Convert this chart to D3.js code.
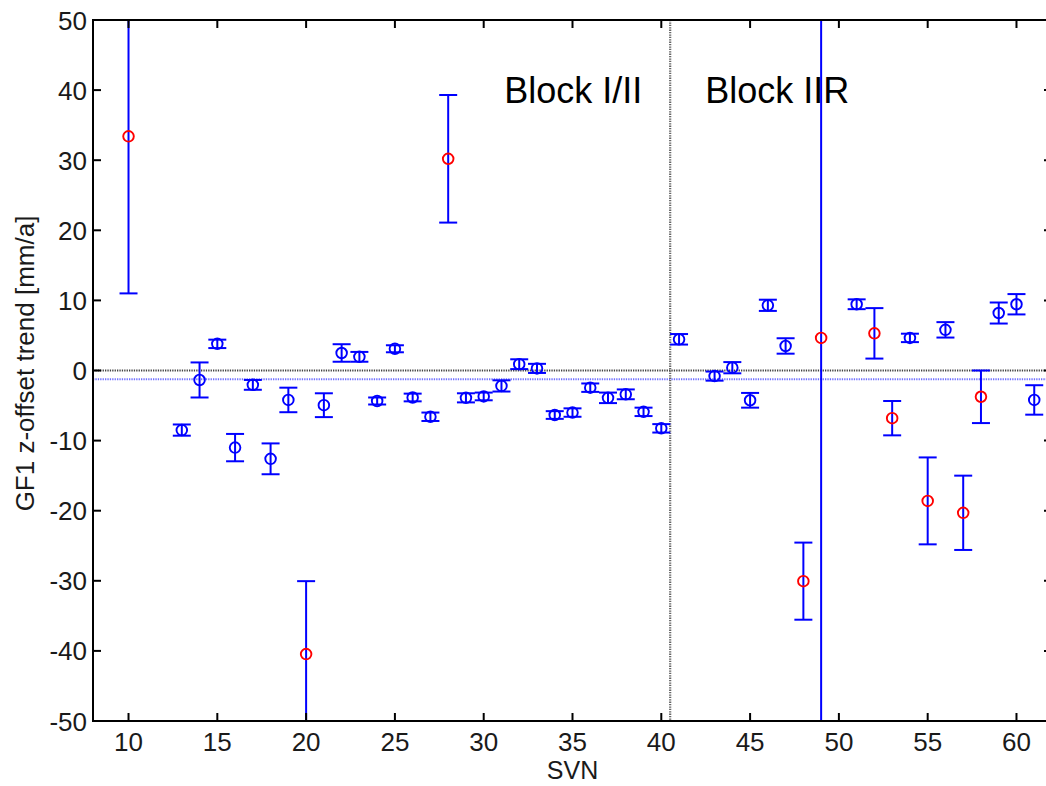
<!DOCTYPE html>
<html>
<head>
<meta charset="utf-8">
<script src="https://cdn.jsdelivr.net/npm/d3@7"></script>
<style>
  html, body { margin: 0; padding: 0; background: #fff; }
  svg { display: block; font-family: "Liberation Sans", Arial, Helvetica, sans-serif; }
</style>
</head>
<body>
<svg id="chart" width="1046" height="786"></svg>
<script>
// ---- data ----
const svn      = [10, 13, 14, 15, 16, 17, 18, 19, 20, 21, 22, 23, 24, 25, 26, 27, 28, 29, 30, 31, 32, 33, 34, 35, 36, 37, 38, 39, 40, 41, 43, 44, 45, 46, 47, 48, 49, 51, 52, 53, 54, 55, 56, 57, 58, 59, 60, 61];
const trend    = [33.4, -8.5, -1.35, 3.8, -11.0, -2.05, -12.6, -4.2, -40.45, -4.95, 2.5, 1.95, -4.35, 3.1, -3.85, -6.6, 30.2, -3.9, -3.7, -2.2, 0.9, 0.3, -6.35, -6.0, -2.45, -3.9, -3.4, -5.9, -8.25, 4.45, -0.8, 0.4, -4.25, 9.3, 3.5, -30.05, 4.65, 9.45, 5.3, -6.8, 4.65, -18.6, 5.8, -20.3, -3.75, 8.2, 9.45, -4.2];
const sigma    = [22.4, 0.8, 2.5, 0.6, 1.95, 0.7, 2.2, 1.75, 10.4, 1.7, 1.25, 0.7, 0.5, 0.5, 0.55, 0.6, 9.1, 0.65, 0.55, 0.8, 0.7, 0.65, 0.55, 0.6, 0.6, 0.75, 0.7, 0.6, 0.6, 0.75, 0.65, 0.8, 1.05, 0.8, 1.1, 5.5, 60, 0.7, 3.6, 2.45, 0.6, 6.2, 1.1, 5.3, 3.75, 1.5, 1.45, 2.1];
const flagged  = [10, 20, 28, 48, 49, 52, 53, 55, 57, 58];   // red markers
const meanTrend = -1.25;     // blue dotted line
const blockSplit = 40.5;     // vertical dotted line
const xTicks = [10, 15, 20, 25, 30, 35, 40, 45, 50, 55, 60];
const yTicks = [-50, -40, -30, -20, -10, 0, 10, 20, 30, 40, 50];
const blockLabels = [
  { text: "Block I/II", svn: 31.15, val: 38.2 },
  { text: "Block IIR", svn: 42.47, val: 38.2 }
];
const xLabel = "SVN";
const yLabel = "GF1 z-offset trend [mm/a]";

// ---- layout ----
const svg = d3.select("#chart");
const L = 93, R = 1052, T = 20, B = 721;
const x = d3.scaleLinear().domain([8, 62]).range([L, R]);
const y = d3.scaleLinear().domain([-50, 50]).range([B, T]);

const data = svn.map((s, i) => ({ s, v: trend[i], e: sigma[i], red: flagged.includes(s) }));

svg.append("defs").append("clipPath").attr("id", "clip")
  .append("rect").attr("x", L).attr("y", T).attr("width", R - L).attr("height", B - T);

const plot = svg.append("g").attr("clip-path", "url(#clip)");

// reference lines
plot.append("line")
  .attr("x1", L).attr("x2", R).attr("y1", y(0)).attr("y2", y(0))
  .attr("stroke", "#444").attr("stroke-width", 2.2).attr("stroke-dasharray", "1.3,1.1");
plot.append("line")
  .attr("x1", L).attr("x2", R).attr("y1", y(meanTrend)).attr("y2", y(meanTrend))
  .attr("stroke", "#7070ff").attr("stroke-width", 2.2).attr("stroke-dasharray", "1.3,1.1");
plot.append("line")
  .attr("x1", x(blockSplit)).attr("x2", x(blockSplit)).attr("y1", T).attr("y2", B)
  .attr("stroke", "#666").attr("stroke-width", 2.2).attr("stroke-dasharray", "1.3,1.1");

// error bars
const capW = 9;
const eb = plot.selectAll("g.eb").data(data).join("g").attr("class", "eb")
  .attr("stroke", "#0000ff").attr("stroke-width", 2).attr("fill", "none");
eb.append("line")
  .attr("x1", d => x(d.s)).attr("x2", d => x(d.s))
  .attr("y1", d => y(d.v + d.e)).attr("y2", d => y(d.v - d.e));
eb.append("line")
  .attr("x1", d => x(d.s) - capW).attr("x2", d => x(d.s) + capW)
  .attr("y1", d => y(d.v + d.e)).attr("y2", d => y(d.v + d.e));
eb.append("line")
  .attr("x1", d => x(d.s) - capW).attr("x2", d => x(d.s) + capW)
  .attr("y1", d => y(d.v - d.e)).attr("y2", d => y(d.v - d.e));

// markers
plot.selectAll("circle.pt").data(data).join("circle").attr("class", "pt")
  .attr("cx", d => x(d.s)).attr("cy", d => y(d.v)).attr("r", 5.3)
  .attr("fill", "none").attr("stroke", d => d.red ? "#ff0000" : "#0000ff")
  .attr("stroke-width", 1.9);

// block labels
svg.selectAll("text.block").data(blockLabels).join("text").attr("class", "block")
  .attr("x", d => x(d.svn)).attr("y", d => y(d.val))
  .attr("font-size", 36).attr("fill", "#000").text(d => d.text);

// axes
const tickLen = 8;
const ax = svg.append("g").attr("stroke", "#000").attr("stroke-width", 2);
ax.append("rect").attr("x", L).attr("y", T).attr("width", R - L).attr("height", B - T)
  .attr("fill", "none");
xTicks.forEach(t => {
  ax.append("line").attr("x1", x(t)).attr("x2", x(t)).attr("y1", B).attr("y2", B - tickLen);
  ax.append("line").attr("x1", x(t)).attr("x2", x(t)).attr("y1", T).attr("y2", T + tickLen);
});
yTicks.forEach(t => {
  ax.append("line").attr("x1", L).attr("x2", L + tickLen).attr("y1", y(t)).attr("y2", y(t));
  ax.append("line").attr("x1", R).attr("x2", R - tickLen).attr("y1", y(t)).attr("y2", y(t));
});

svg.selectAll("text.xt").data(xTicks).join("text").attr("class", "xt")
  .attr("x", d => x(d)).attr("y", 751).attr("text-anchor", "middle")
  .attr("font-size", 26).attr("fill", "#1a1a1a").text(d => d);
svg.selectAll("text.yt").data(yTicks).join("text").attr("class", "yt")
  .attr("x", 87).attr("y", d => y(d) + 9.5).attr("text-anchor", "end")
  .attr("font-size", 26).attr("fill", "#1a1a1a").text(d => d);

svg.append("text").attr("x", (L + R) / 2).attr("y", 779).attr("text-anchor", "middle")
  .attr("font-size", 25).attr("fill", "#1a1a1a").text(xLabel);
svg.append("text").attr("transform", `translate(34, ${(T + B) / 2 - 7}) rotate(-90)`)
  .attr("text-anchor", "middle").attr("font-size", 26).attr("fill", "#1a1a1a").text(yLabel);
</script>
</body>
</html>
